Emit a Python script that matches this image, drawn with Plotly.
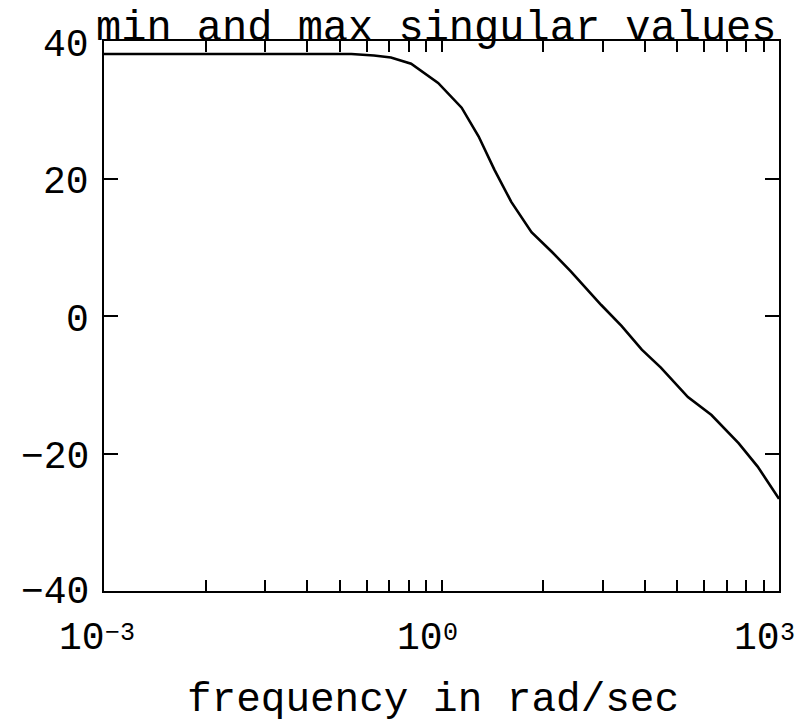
import math
import plotly.graph_objects as go

# ---- data ----
freq = [0.001, 0.01, 0.0316, 0.1, 0.158, 0.251, 0.355, 0.537, 0.933, 1.51, 2.14,
        2.95, 4.17, 6.31, 9.55, 14.1, 26.3, 39.8, 60.3, 89.1, 155, 251, 437, 646, 1000]
sv_db = [38.1, 38.1, 38.1, 38.1, 38.1, 37.9, 37.6, 36.7, 33.9, 30.3, 26.1,
         21.3, 16.6, 12.2, 9.35, 6.5, 1.6, -1.45, -4.9, -7.5, -11.8, -14.4, -18.5, -21.9, -26.6]

x_tick_vals = [0.001, 0.008, 0.027, 0.064, 0.125, 0.216, 0.343, 0.512, 0.729, 1,
               8, 27, 64, 125, 216, 343, 512, 729, 1000]
x_label_vals = [0.001, 1, 1000]
x_label_exps = ["\u22123", "0", "3"]
y_tick_vals = [-40, -20, 0, 20, 40]
y_tick_text = ["\u221240", "\u221220", "0", "20", "40"]

title_text = "min and max singular values"
xlabel_text = "frequency in rad/sec"

FONT = "Liberation Mono"

fig = go.Figure()
fig.add_trace(go.Scatter(x=freq, y=sv_db, mode="lines",
                         line=dict(color="black", width=2.6), showlegend=False,
                         hoverinfo="skip"))

fig.update_xaxes(type="log", range=[-3, 3], tickvals=x_tick_vals, showticklabels=False,
                 ticks="inside", ticklen=11, tickwidth=1.5, tickcolor="black",
                 showline=True, linecolor="black", linewidth=2, mirror="ticks",
                 showgrid=False, zeroline=False)
fig.update_yaxes(range=[-40, 40], tickvals=y_tick_vals, showticklabels=False,
                 ticks="inside", ticklen=14, tickwidth=1.5, tickcolor="black",
                 showline=True, linecolor="black", linewidth=2, mirror="ticks",
                 showgrid=False, zeroline=False)

ann = []
for v, t in zip(y_tick_vals, y_tick_text):
    ann.append(dict(x=0, xref="paper", y=v, yref="y", text=t, showarrow=False,
                    xanchor="right", yanchor="middle", xshift=-14,
                    yshift=(-1 if v == -40 else -4), borderpad=0,
                    font=dict(family=FONT, size=38, color="black")))
for v, e in zip(x_label_vals, x_label_exps):
    lx = math.log10(v)
    ann.append(dict(x=lx, xref="x", y=0, yref="paper", text="10", showarrow=False,
                    xanchor="right", yanchor="top", yshift=-25, xshift=2, borderpad=0,
                    font=dict(family=FONT, size=38, color="black")))
    ann.append(dict(x=lx, xref="x", y=0, yref="paper", text=e, showarrow=False,
                    xanchor="left", yanchor="top", yshift=-27, xshift=0, borderpad=0,
                    font=dict(family=FONT, size=25, color="black")))
ann.append(dict(x=0.493, xref="paper", y=1, yref="paper", text=title_text,
                showarrow=False, xanchor="center", yanchor="bottom", yshift=-14,
                font=dict(family=FONT, size=42, color="black")))
ann.append(dict(x=0.487, xref="paper", y=0, yref="paper", text=xlabel_text,
                showarrow=False, xanchor="center", yanchor="top", yshift=-84,
                font=dict(family=FONT, size=41, color="black")))

fig.update_layout(width=798, height=724, margin=dict(l=104, r=19, t=41, b=133),
                  paper_bgcolor="white", plot_bgcolor="white", annotations=ann)

fig.write_html("out.html")
